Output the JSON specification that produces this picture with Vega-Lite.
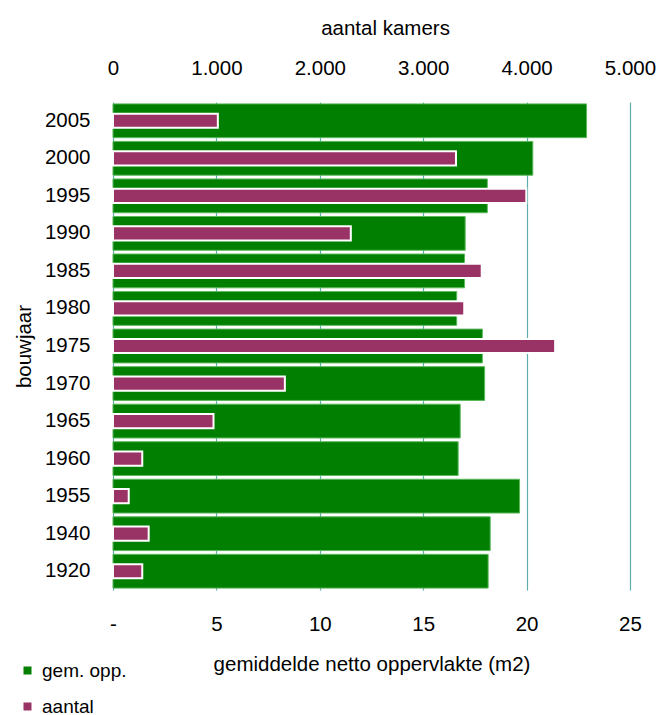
{
  "$schema": "https://vega.github.io/schema/vega-lite/v6.json",
  "autosize": {"type": "none"},
  "width": 517,
  "height": 488,
  "padding": {"left": 113, "top": 102, "right": 28, "bottom": 125},
  "config": {
    "font": "Liberation Sans",
    "view": {"stroke": null},
    "axis": {"labelFont": "Liberation Sans", "titleFont": "Liberation Sans", "labelColor": "#000", "titleColor": "#000", "titleFontWeight": "normal", "domain": false, "ticks": false},
    "legend": {"labelFont": "Liberation Sans", "labelColor": "#000"}
  },
  "data": {
    "values": [
      {"bouwjaar": "2005", "opp": 22.9, "aantal": 1014},
      {"bouwjaar": "2000", "opp": 20.3, "aantal": 3317},
      {"bouwjaar": "1995", "opp": 18.1, "aantal": 3997},
      {"bouwjaar": "1990", "opp": 17.03, "aantal": 2300},
      {"bouwjaar": "1985", "opp": 17.0, "aantal": 3566},
      {"bouwjaar": "1980", "opp": 16.62, "aantal": 3397},
      {"bouwjaar": "1975", "opp": 17.86, "aantal": 4276},
      {"bouwjaar": "1970", "opp": 17.97, "aantal": 1662},
      {"bouwjaar": "1965", "opp": 16.79, "aantal": 972},
      {"bouwjaar": "1960", "opp": 16.69, "aantal": 283},
      {"bouwjaar": "1955", "opp": 19.66, "aantal": 152},
      {"bouwjaar": "1940", "opp": 18.24, "aantal": 345},
      {"bouwjaar": "1920", "opp": 18.14, "aantal": 283}
    ]
  },
  "encoding": {
    "y": {
      "field": "bouwjaar", "type": "ordinal", "sort": "descending",
      "scale": {"paddingInner": 0.1, "paddingOuter": 0.05},
      "axis": {"title": "bouwjaar", "labelFontSize": 20.5, "titleFontSize": 20.5, "labelPadding": 23, "titlePadding": 10}
    }
  },
  "layer": [
    {
      "mark": {"type": "bar", "stroke": "#5cb85c", "strokeWidth": 1},
      "encoding": {
        "x": {
          "field": "opp", "type": "quantitative",
          "scale": {"domain": [0, 25], "nice": false},
          "axis": {"orient": "bottom", "title": "gemiddelde netto oppervlakte (m2)", "values": [0, 5, 10, 15, 20, 25], "labelExpr": "datum.value == 0 ? '-' : datum.label", "labelFlush": false, "labelFontSize": 20.5, "titleFontSize": 20.5, "labelPadding": 24, "titlePadding": 20, "grid": true, "gridColor": "#5fadad", "gridWidth": 1.2}
        },
        "color": {"datum": "gem. opp.", "type": "nominal", "scale": {"domain": ["gem. opp.", "aantal"], "range": ["#007f00", "#993366"]},
          "legend": {"title": null, "orient": "none", "legendX": -95, "legendY": 559, "direction": "vertical", "labelFontSize": 19, "symbolType": "square", "symbolSize": 64, "symbolStrokeWidth": 0, "rowPadding": 16, "labelOffset": 5}}
      }
    },
    {
      "mark": {"type": "bar", "height": {"band": 0.42}, "stroke": "#fff", "strokeWidth": 2},
      "encoding": {
        "x": {
          "field": "aantal", "type": "quantitative",
          "scale": {"domain": [0, 5000], "nice": false},
          "axis": {"orient": "top", "title": "aantal kamers", "titleX": 272, "values": [0, 1000, 2000, 3000, 4000, 5000], "labelExpr": "replace(datum.label, ',', '.')", "labelFlush": false, "labelFontSize": 20.5, "titleFontSize": 20.5, "labelPadding": 24, "titlePadding": 20, "grid": false}
        },
        "color": {"datum": "aantal", "type": "nominal"}
      }
    }
  ],
  "resolve": {"scale": {"x": "independent"}}
}
